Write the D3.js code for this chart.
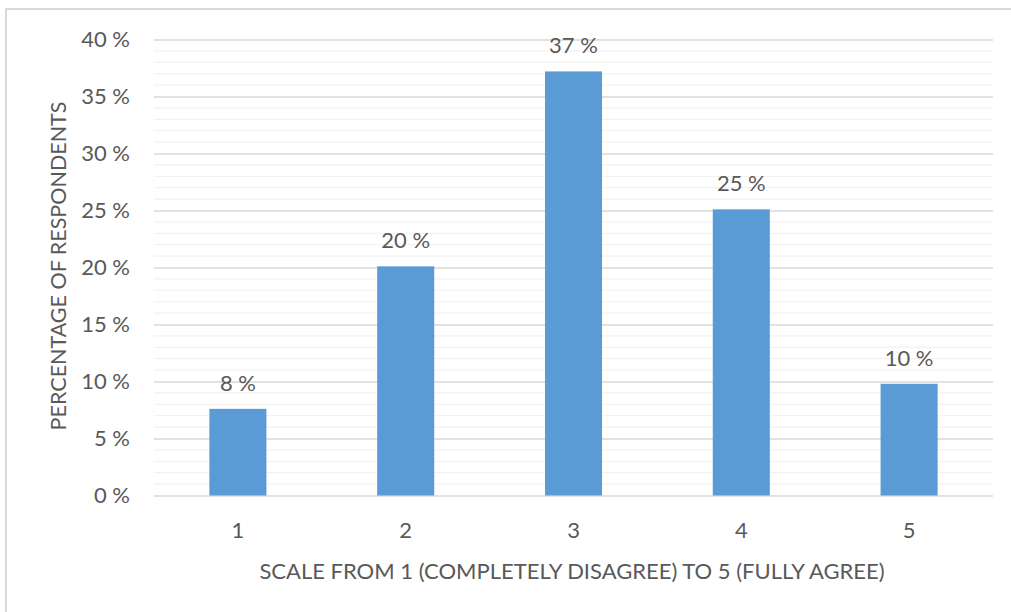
<!DOCTYPE html>
<html>
<head>
<meta charset="utf-8">
<script src="https://cdn.jsdelivr.net/npm/d3@7/dist/d3.min.js"></script>
<style>
  html, body { margin: 0; padding: 0; background: #fff; }
  svg { display: block; }
  text { font-family: Lato, "Open Sans", sans-serif; fill: #595959; }
</style>
</head>
<body>
<svg id="chart" width="1011" height="612"></svg>
<script>
// Survey answers on a 1–5 agreement scale
const categories = ["1", "2", "3", "4", "5"];
const shares = [7.6, 20.1, 37.2, 25.1, 9.8];       // percent of respondents
const yTicks = [0, 5, 10, 15, 20, 25, 30, 35, 40];
const yMinorTicks = d3.range(0, 41, 1);
const xTitle = "SCALE FROM 1 (COMPLETELY DISAGREE) TO 5 (FULLY AGREE)";
const yTitle = "PERCENTAGE OF RESPONDENTS";

const svg = d3.select("#chart");
const plot = { left: 154, right: 993, top: 39.5, bottom: 495.5 };

// chart frame (only top and left edges fall inside the page)
svg.append("rect")
  .attr("x", 6).attr("y", 9)
  .attr("width", 1200).attr("height", 800)
  .attr("fill", "none")
  .attr("stroke", "#d9d9d9")
  .attr("stroke-width", 2);

const x = d3.scaleBand()
  .domain(categories)
  .range([plot.left, plot.right]);

const y = d3.scaleLinear()
  .domain([0, 40])
  .range([plot.bottom, plot.top]);

// minor gridlines
svg.append("g")
  .selectAll("line")
  .data(yMinorTicks.filter(d => d % 5 !== 0))
  .join("line")
  .attr("x1", plot.left).attr("x2", plot.right)
  .attr("y1", d => y(d)).attr("y2", d => y(d))
  .attr("stroke", "#f2f2f2")
  .attr("stroke-width", 1.3);

// major gridlines via axis
const yAxis = d3.axisLeft(y)
  .tickValues(yTicks)
  .tickSize(-(plot.right - plot.left))
  .tickPadding(24)
  .tickFormat(d => d + " %");

const gy = svg.append("g")
  .attr("transform", `translate(${plot.left},0)`)
  .call(yAxis);
gy.select(".domain").remove();
gy.selectAll(".tick line").attr("stroke", "#d9d9d9").attr("stroke-width", 1.3);
gy.selectAll(".tick text")
  .attr("font-size", 22)
  .attr("fill", "#595959")
  .attr("font-family", "Lato, sans-serif");

// bars
const barW = x.bandwidth() * 0.34;
svg.append("g")
  .selectAll("rect")
  .data(categories.map((c, i) => ({ c, v: shares[i] })))
  .join("rect")
  .attr("x", d => x(d.c) + x.bandwidth() / 2 - barW / 2)
  .attr("width", barW)
  .attr("y", d => y(d.v))
  .attr("height", d => y(0) - y(d.v))
  .attr("fill", "#5b9bd5");

// value labels
svg.append("g")
  .selectAll("text")
  .data(categories.map((c, i) => ({ c, v: shares[i] })))
  .join("text")
  .attr("x", d => x(d.c) + x.bandwidth() / 2)
  .attr("y", d => y(d.v) - 18)
  .attr("text-anchor", "middle")
  .attr("font-size", 22)
  .text(d => d3.format(".0f")(d.v) + " %");

// x axis labels
const xAxis = d3.axisBottom(x).tickSize(0).tickPadding(27);
const gx = svg.append("g")
  .attr("transform", `translate(0,${plot.bottom})`)
  .call(xAxis);
gx.select(".domain").remove();
gx.selectAll(".tick text")
  .attr("font-size", 22)
  .attr("fill", "#595959")
  .attr("font-family", "Lato, sans-serif");

// axis titles
svg.append("text")
  .attr("x", 572)
  .attr("y", 579)
  .attr("text-anchor", "middle")
  .attr("font-size", 22)
  .text(xTitle);

svg.append("text")
  .attr("transform", `translate(66,266) rotate(-90)`)
  .attr("text-anchor", "middle")
  .attr("font-size", 21.5)
  .text(yTitle);
</script>
</body>
</html>
